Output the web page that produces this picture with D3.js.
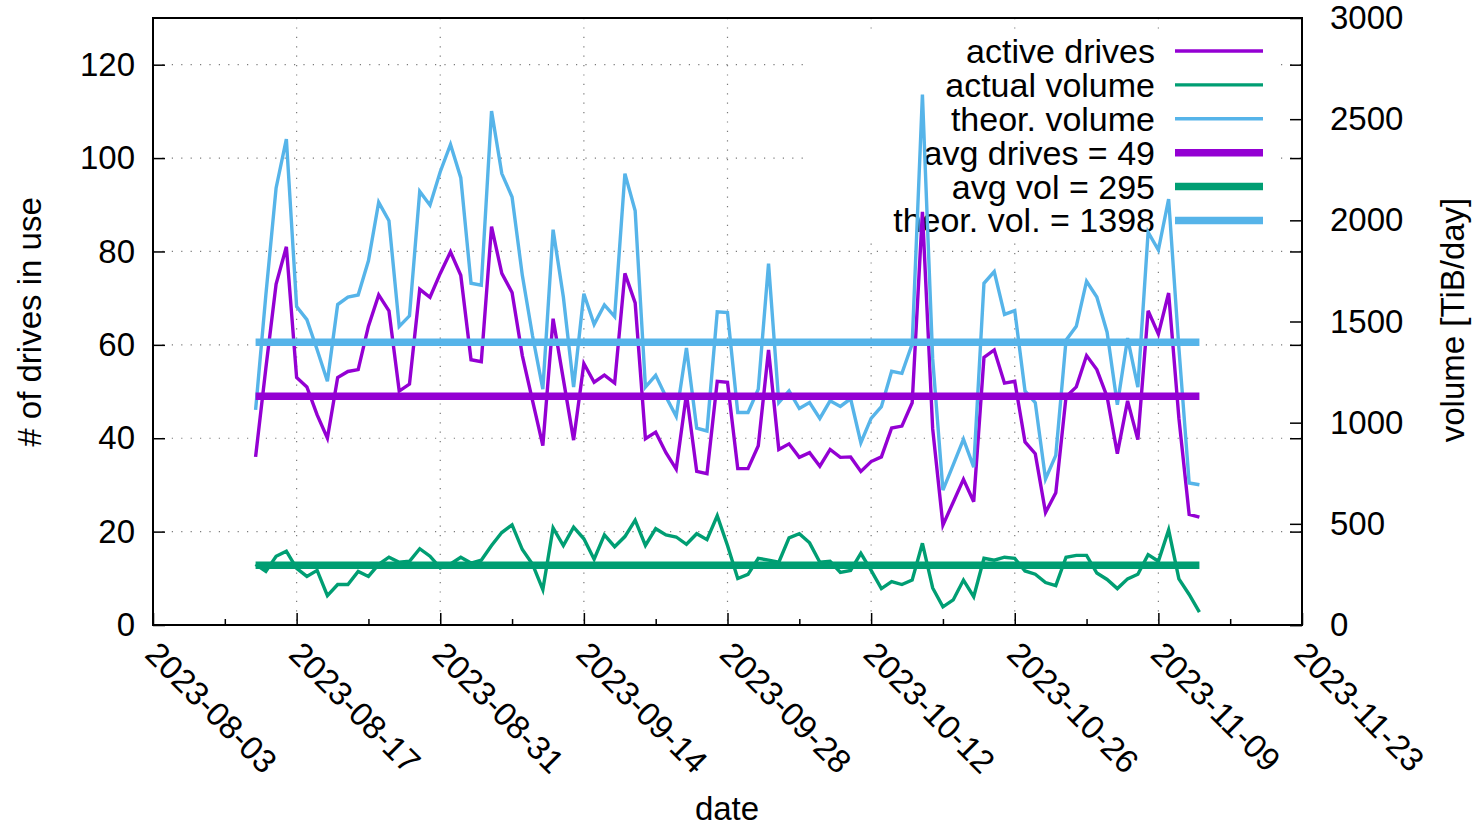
<!DOCTYPE html>
<html><head><meta charset="utf-8">
<script src="https://cdn.jsdelivr.net/npm/d3@7"></script>
<style>
body{margin:0;background:#fff}
svg{display:block}
text{font-family:"Liberation Sans",Arial,Helvetica,sans-serif;fill:#000}
</style>
</head><body>
<svg id="chart" width="1475" height="826"></svg>
<script>
// ---- data (daily, starting 2023-08-13) ----
const firstDay = "2023-08-13";
const activeDrives = [36,55,73,81,53,51,45,40,53,54.3,54.7,64,70.7,67.3,50.1,51.6,71.9,70.2,75.3,79.9,74.9,56.8,56.4,85.3,75.3,71.2,57.7,48,38.4,65.6,52.6,39.6,56,52,53.5,51.8,75.3,69,39.9,41.3,36.9,33.4,49.5,32.9,32.4,52.2,52,33.5,33.5,38.4,58.9,37.6,38.8,35.9,36.9,34,37.6,35.9,36,32.9,35,36,42.2,42.6,47.6,88.5,42,21.4,26.3,31.2,26.4,57.3,58.9,51.8,52.2,39.2,36.7,24.1,28.3,48.9,51,57.7,54.7,48.9,36.7,48,39.7,67.3,62.3,71.1,44.3,23.7,23.1];
const actualVolume = [300,265,340,365,280,240,270,145,200,200,265,240,300,335,310,315,377,340,282,302,335,306,320,393,457,495,373,300,175,480,393,484,426,325,445,387,437,518,393,476,445,435,399,451,422,540,393,230,250,329,321,310,431,451,406,310,315,260,270,354,270,180,215,200,222,404,183,90,124,222,140,330,320,335,329,267,251,210,195,335,344,344,257,225,180,228,251,348,315,470,228,151,64];
const theorVolume = [1063,1630,2160,2402,1574,1509,1360,1205,1584,1621,1631,1800,2089,1998,1476,1528,2143,2075,2240,2375,2211,1689,1679,2540,2231,2115,1728,1428,1166,1954,1621,1176,1637,1486,1582,1524,2231,2047,1176,1234,1128,1031,1369,973,959,1548,1544,1050,1050,1166,1786,1099,1157,1070,1099,1021,1108,1080,1118,901,1021,1079,1254,1244,1389,2621,1315,667,791,918,780,1689,1747,1535,1554,1157,1099,722,838,1408,1476,1699,1621,1447,1089,1418,1176,1941,1853,2105,1369,702,693];
const avgDrives = 49;
const avgVol = 295;
const avgTheorVol = 1398;
const xTickLabels = ["2023-08-03","2023-08-17","2023-08-31","2023-09-14","2023-09-28","2023-10-12","2023-10-26","2023-11-09","2023-11-23"];
const yLeftTicks = [0,20,40,60,80,100,120];
const yRightTicks = [0,500,1000,1500,2000,2500,3000];
const legendLabels = ["active drives","actual volume","theor. volume","avg drives = 49","avg vol = 295","theor. vol. = 1398"];

// ---- layout ----
const L = 153, R = 1302, T = 18, B = 625;
const colPurple = "#9400d3", colGreen = "#009e73", colBlue = "#56b4e9";
const FS = 33;

const parse = d3.utcParse("%Y-%m-%d");
const d0 = parse(firstDay);
const dates = activeDrives.map((_, i) => d3.utcDay.offset(d0, i));

const x = d3.scaleUtc().domain([parse(xTickLabels[0]), parse(xTickLabels[xTickLabels.length - 1])]).range([L, R]);
const yL = d3.scaleLinear().domain([0, 130]).range([B, T]);
const yR = d3.scaleLinear().domain([0, 3000]).range([B, T]);

const svg = d3.select("#chart");

// grid
const grid = svg.append("g").attr("stroke", "#7a7a7a").attr("stroke-width", 1.2).attr("stroke-dasharray", "1.2,8.2");
yLeftTicks.filter(v => v > 0).forEach(v => {
  grid.append("line").attr("x1", L).attr("x2", R).attr("y1", yL(v)).attr("y2", yL(v));
});
xTickLabels.slice(1, -1).forEach(s => {
  grid.append("line").attr("x1", x(parse(s))).attr("x2", x(parse(s))).attr("y1", T).attr("y2", B);
});

// key box hides grid
svg.append("rect").attr("x", 810).attr("y", 36).attr("width", 465).attr("height", 201).attr("fill", "#fff");

// legend
const legRowY = i => 51 + i * 33.9;
const legCols = [colPurple, colGreen, colBlue, colPurple, colGreen, colBlue];
const legW = [3.4, 3.4, 3.4, 7.5, 7.5, 7.5];
legendLabels.forEach((t, i) => {
  svg.append("text").attr("x", 1155).attr("y", legRowY(i)).attr("dy", "0.35em")
    .attr("text-anchor", "end").attr("font-size", 34).text(t);
  svg.append("line").attr("x1", 1175).attr("x2", 1263).attr("y1", legRowY(i)).attr("y2", legRowY(i))
    .attr("stroke", legCols[i]).attr("stroke-width", legW[i]);
});

// data lines
const lineL = d3.line().x((d, i) => x(dates[i])).y(d => yL(d));
const lineR = d3.line().x((d, i) => x(dates[i])).y(d => yR(d));
const g = svg.append("g").attr("fill", "none").attr("stroke-linejoin", "miter").attr("stroke-width", 3.4);
g.append("path").datum(activeDrives).attr("d", lineL).attr("stroke", colPurple);
g.append("path").datum(actualVolume).attr("d", lineR).attr("stroke", colGreen);
g.append("path").datum(theorVolume).attr("d", lineR).attr("stroke", colBlue);

// average lines
const x0 = x(dates[0]), x1 = x(dates[dates.length - 1]);
[[yL(avgDrives), colPurple], [yR(avgVol), colGreen], [yR(avgTheorVol), colBlue]].forEach(([yy, c]) => {
  svg.append("line").attr("x1", x0).attr("x2", x1).attr("y1", yy).attr("y2", yy)
    .attr("stroke", c).attr("stroke-width", 7.5);
});

// axes
function styleAxis(sel) {
  sel.select(".domain").remove();
  sel.selectAll(".tick line").attr("stroke", "#000").attr("stroke-width", 1.5);
  sel.selectAll("text").attr("font-size", FS).attr("fill", "#000")
    .style("font-family", '"Liberation Sans",Arial,Helvetica,sans-serif');
}
// left
svg.append("g").attr("transform", `translate(${L},0)`)
  .call(d3.axisLeft(yL).tickValues(yLeftTicks).tickSize(-12).tickPadding(18).tickFormat(d3.format("d")))
  .call(styleAxis);
// left mirror on right
svg.append("g").attr("transform", `translate(${R},0)`)
  .call(d3.axisRight(yL).tickValues(yLeftTicks).tickSize(-12).tickFormat(""))
  .call(styleAxis);
// right y2
svg.append("g").attr("transform", `translate(${R},0)`)
  .call(d3.axisRight(yR).tickValues(yRightTicks).tickSize(-12).tickPadding(28).tickFormat(d3.format("d")))
  .call(styleAxis);
// bottom minor
const minorTicks = d3.utcDay.range(parse(xTickLabels[0]), parse(xTickLabels[xTickLabels.length - 1]), 7)
  .filter(d => !xTickLabels.includes(d3.utcFormat("%Y-%m-%d")(d)));
svg.append("g").attr("transform", `translate(0,${B})`)
  .call(d3.axisBottom(x).tickValues(minorTicks).tickSize(-6).tickFormat(""))
  .call(styleAxis);
// bottom major
const bx = svg.append("g").attr("transform", `translate(0,${B})`)
  .call(d3.axisBottom(x).tickValues(xTickLabels.map(parse)).tickSize(-12).tickFormat(d3.utcFormat("%Y-%m-%d")))
  .call(styleAxis);
bx.selectAll(".tick text").attr("y", 0).attr("dy", 0).attr("text-anchor", "start")
  .attr("transform", "translate(-10,31) rotate(45)");

// frame
svg.append("rect").attr("x", L).attr("y", T).attr("width", R - L).attr("height", B - T)
  .attr("fill", "none").attr("stroke", "#000").attr("stroke-width", 2);

// axis titles
svg.append("text").attr("transform", "translate(41,322) rotate(-90)").attr("text-anchor", "middle")
  .attr("font-size", FS).text("# of drives in use");
svg.append("text").attr("transform", "translate(1464,320) rotate(-90)").attr("text-anchor", "middle")
  .attr("font-size", FS).text("volume [TiB/day]");
svg.append("text").attr("x", 727).attr("y", 820).attr("text-anchor", "middle")
  .attr("font-size", FS).text("date");
</script>
</body></html>
